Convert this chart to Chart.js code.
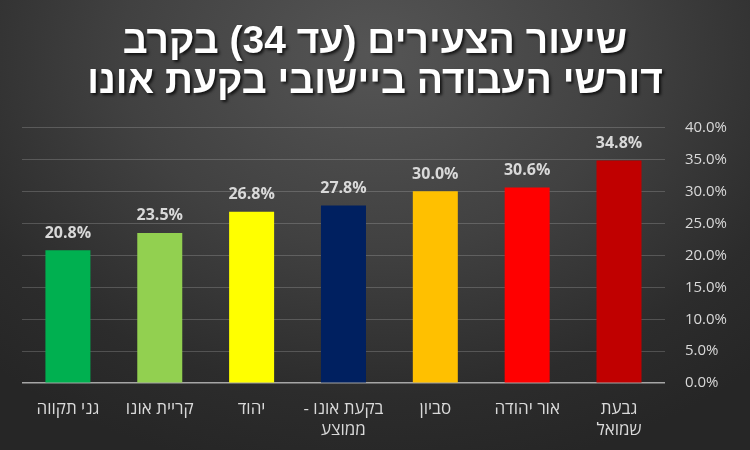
<!DOCTYPE html>
<html lang="he">
<head>
<meta charset="utf-8">
<script src="https://cdn.jsdelivr.net/npm/chart.js@4"></script>
<style>
  body { margin: 0; background: #2a2a2a; }
  #wrap {
    width: 750px;
    height: 450px;
    background: radial-gradient(ellipse 75% 95% at 50% 12%, #555555 0%, #414141 45%, #2c2c2c 80%, #262626 100%);
  }
</style>
</head>
<body>
<div id="wrap"><canvas id="chart" dir="rtl"></canvas></div>
<script>
const titleLines = ["שיעור הצעירים (עד 34) בקרב", "דורשי העבודה ביישובי בקעת אונו"];
const towns = [
  "גני תקווה",
  "קריית אונו",
  "יהוד",
  ["בקעת אונו -", "ממוצע"],
  "סביון",
  "אור יהודה",
  ["גבעת", "שמואל"]
];
const youthShare = [20.8, 23.5, 26.8, 27.8, 30.0, 30.6, 34.8];
const barColors = ["#00b050", "#92d050", "#ffff00", "#002060", "#ffc000", "#ff0000", "#c00000"];
const yTicks = [0, 5, 10, 15, 20, 25, 30, 35, 40];

const textGray = "#d9d9d9";

// value labels above each bar
const barLabels = {
  id: "barLabels",
  afterDatasetsDraw(chart) {
    const ctx = chart.ctx;
    const meta = chart.getDatasetMeta(0);
    ctx.save();
    ctx.font = "bold 16px 'Open Sans'";
    ctx.fillStyle = textGray;
    ctx.textAlign = "center";
    ctx.textBaseline = "bottom";
    meta.data.forEach((bar, i) => {
      ctx.fillText(youthShare[i].toFixed(1) + "%", bar.x, bar.y - 9);
    });
    ctx.restore();
  }
};

// drop shadow behind the title, and centre it on the whole canvas
const titleShadow = {
  id: "titleShadow",
  afterLayout(chart) {
    const t = chart.titleBlock;
    if (!t || t._shadowed) return;
    const orig = t.draw.bind(t);
    t.draw = function () {
      const ctx = chart.ctx;
      ctx.save();
      ctx.translate(chart.width / 2 - (t.left + t.right) / 2, 0);
      ctx.shadowColor = "rgba(0,0,0,0.75)";
      ctx.shadowBlur = 3;
      ctx.shadowOffsetX = 2;
      ctx.shadowOffsetY = 2;
      orig();
      ctx.restore();
    };
    t._shadowed = true;
  }
};

new Chart(document.getElementById("chart"), {
  type: "bar",
  data: {
    labels: towns,
    datasets: [{
      data: youthShare,
      backgroundColor: barColors,
      borderWidth: 0,
      barPercentage: 0.49,
      categoryPercentage: 1
    }]
  },
  options: {
    responsive: true,
    maintainAspectRatio: false,
    animation: false,
    layout: { padding: { left: 22, right: 3, top: 0, bottom: 2 } },
    plugins: {
      legend: { display: false },
      tooltip: { enabled: false },
      title: {
        display: true,
        text: titleLines,
        color: "#ffffff",
        font: { family: "'Liberation Sans', Arial", size: 39, weight: "bold", lineHeight: 1.03 },
        padding: { top: 22, bottom: 25 }
      }
    },
    scales: {
      x: {
        grid: { display: false },
        border: { display: false },
        ticks: {
          color: textGray,
          font: { family: "'Open Sans'", size: 17, lineHeight: 1.2 },
          padding: 8,
          maxRotation: 0
        }
      },
      y: {
        position: "right",
        min: 0,
        max: 40,
        afterBuildTicks(axis) {
          axis.ticks = yTicks.map(v => ({ value: v }));
        },
        border: { display: false },
        grid: {
          color: ctx => ctx.tick.value === 0 ? "#a6a6a6" : "rgba(217,217,217,0.22)",
          lineWidth: ctx => ctx.tick.value === 0 ? 1.5 : 1,
          drawTicks: false
        },
        ticks: {
          color: textGray,
          font: { family: "'Open Sans'", size: 15 },
          padding: 20,
          callback: v => v.toFixed(1) + "%"
        }
      }
    }
  },
  plugins: [barLabels, titleShadow]
});
</script>
</body>
</html>
